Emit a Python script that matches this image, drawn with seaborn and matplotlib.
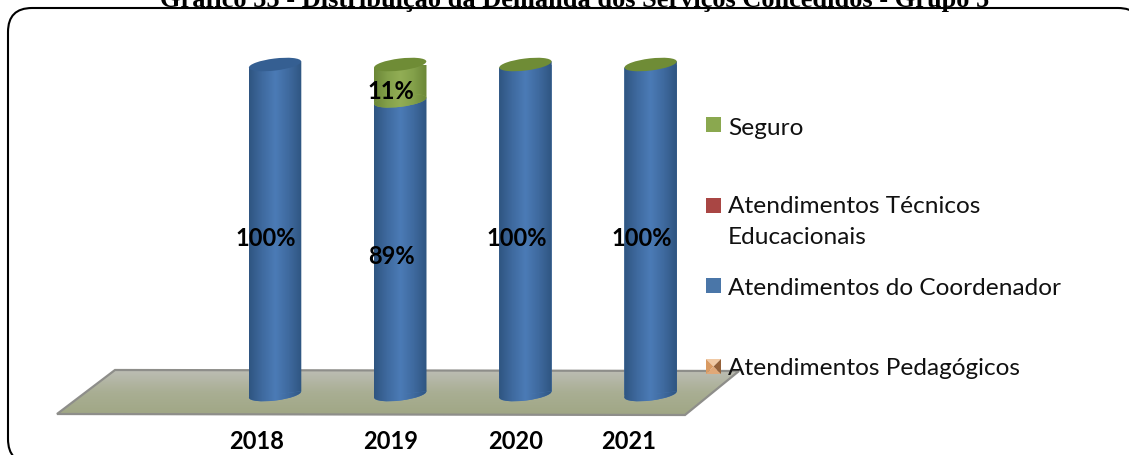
"""
Grafico 55 - stacked cylinder chart, recreated with seaborn
"""
import numpy as np
import pandas as pd
import matplotlib
matplotlib.use('Agg')
import matplotlib.pyplot as plt
import seaborn as sns
from matplotlib.colors import LinearSegmentedColormap
from matplotlib.patches import Ellipse, FancyBboxPatch, Polygon, Rectangle
from matplotlib.transforms import Affine2D, IdentityTransform, ScaledTranslation

TITLE = 'Gráfico 55 - Distribuição da Demanda dos Serviços Concedidos - Grupo 5'
years = ['2018', '2019', '2020', '2021']
coordenador = [100, 89, 100, 100]
seguro = [0, 11, 0, 0]
legend_labels = ['Seguro', 'Atendimentos Técnicos\nEducacionais',
                 'Atendimentos do Coordenador', 'Atendimentos Pedagógicos']

W, H = 1129, 456
TILT = 3.2  # px rise of a rim from its centre to its right end
BLUE = ['#2f5581', '#3f6a9f', '#4b7bb6', '#3f6a9f', '#2f5581']
GREEN = ['#6b8737', '#83a04a', '#92ae55', '#83a04a', '#6b8737']
blue_cmap = LinearSegmentedColormap.from_list('blue', BLUE)
green_cmap = LinearSegmentedColormap.from_list('green', GREEN)
floor_cmap = LinearSegmentedColormap.from_list('floor', ['#bcbdb4', '#a9ae93', '#a0a785'])

sns.set_theme(style='white')
plt.rcParams['font.family'] = ['Lato', 'DejaVu Sans']

fig = plt.figure(figsize=(W / 100, H / 100), dpi=100, facecolor='white')

# background layer in pixel coordinates
bg = fig.add_axes([0, 0, 1, 1], zorder=0)
bg.set_xlim(0, W)
bg.set_ylim(H, 0)
bg.axis('off')

frame = FancyBboxPatch((32, 33), 1086, 407, boxstyle='round,pad=24,rounding_size=24',
                       fc='white', ec='black', lw=1.5, clip_on=False)
bg.add_patch(frame)

bg.text(575, 6.5, TITLE, family='Liberation Serif', weight='bold', fontsize=19,
        ha='center', va='baseline', color='black', clip_on=False)

# floor
floor = Polygon([(115, 371), (57, 415), (685, 416), (739, 372)], closed=True,
                fc='none', ec='#8e8e8a', lw=1.6, zorder=3)
bg.add_patch(floor)
grad = bg.imshow(np.linspace(0, 1, 64)[:, None], extent=(50, 745, 416, 371), aspect='auto',
                 cmap=floor_cmap, zorder=2)
grad.set_clip_path(floor)
bg.set_xlim(0, W)
bg.set_ylim(H, 0)

# legend
square_y = [118, 199, 279]
square_colors = ['#8aa84f', '#a94644', '#4a76a8']
for y, c in zip(square_y, square_colors):
    bg.add_patch(Rectangle((706, y), 15, 15, fc=c, ec='none', zorder=4))
x0, x1, y0, y1, cx, cy = 706, 721, 360, 375, 713.5, 367.5
for pts, c in [([(x0, y0), (x1, y0), (cx, cy)], '#f0c9a4'),
               ([(x0, y1), (x1, y1), (cx, cy)], '#e0a878'),
               ([(x0, y0), (x0, y1), (cx, cy)], '#d99a62'),
               ([(x1, y0), (x1, y1), (cx, cy)], '#95623a')]:
    bg.add_patch(Polygon(pts, closed=True, fc=c, ec='none', zorder=4))
legend_y = [129, 222, 289, 369]
for label, y in zip(legend_labels, legend_y):
    bg.text(728, y, label, fontsize=17.6, color='#111111', ha='left', va='center',
            linespacing=1.6, zorder=5)

# chart layer: x categories 125.2 px apart, y from 395.5 px (0) to 65.5 px (100)
ax = fig.add_axes([212.4 / W, (H - 395.5) / H, 500.8 / W, 330 / H], zorder=1)
ax.patch.set_alpha(0)
df = pd.DataFrame({'ano': years, 'coordenador': coordenador, 'seguro': seguro})
sns.barplot(data=df, x='ano', y='coordenador', color=BLUE[2], width=0.42, saturation=1,
            linewidth=0, ax=ax)
sns.barplot(data=df, x='ano', y='seguro', bottom=df['coordenador'], color=GREEN[2],
            width=0.42, saturation=1, linewidth=0, ax=ax)
ax.set_xlim(-0.5, 3.5)
ax.set_ylim(0, 100)
ax.set_xlabel('')
ax.set_ylabel('')
ax.set_yticks([])
sns.despine(ax=ax, left=True, bottom=True)
ax.tick_params(axis='x', length=0, pad=25)
ax.set_xticks(range(len(years)))
ax.set_xticklabels(years, fontsize=17, fontweight='bold', color='black')

# the year labels sit left of the bars, as in a 3D office chart
label_shift = [-18, -10, -10, -22]
for lab, dx in zip(ax.get_xticklabels(), label_shift):
    lab.set_transform(lab.get_transform() + ScaledTranslation(dx / 100, 0, fig.dpi_scale_trans))


def gradient(clip, cmap, low, high, y_low, y_high, zorder):
    """Horizontal cylinder gradient clipped to a patch"""
    im = ax.imshow(np.linspace(0, 1, 128)[None, :], extent=(low, high, y_low, y_high),
                   aspect='auto', cmap=cmap, zorder=zorder)
    im.set_clip_box(fig.bbox)
    im.set_clip_path(clip)


def body(bar):
    """Outline of a bar in pixels, with top and bottom sloped along the rims"""
    (xa, ya), (xb, yb) = ax.transData.transform(
        [(bar.get_x(), bar.get_y()), (bar.get_x() + bar.get_width(), bar.get_y() + bar.get_height())])
    return Polygon([(xa, ya - TILT), (xb, ya + TILT), (xb, yb + TILT), (xa, yb - TILT)],
                   closed=True, transform=IdentityTransform())


def rim(i, value, **kwargs):
    """Tilted ellipse at the top or bottom of a cylinder"""
    px, py = ax.transData.transform((i, value))
    tr = Affine2D().scale(26.3, 6).rotate_deg(7).translate(px, py)
    e = Ellipse((0, 0), 2, 2, transform=tr, clip_on=False, **kwargs)
    ax.add_patch(e)
    return e


for i, (c, s) in enumerate(zip(coordenador, seguro)):
    low, high = i - 0.21, i + 0.21
    bar = ax.containers[0][i]
    bar.set_zorder(3)
    outline = body(bar)
    bar.set_clip_path(outline)
    gradient(outline, blue_cmap, low, high, -3, c + 3, 3.1)
    base = rim(i, 0, fc=BLUE[2], ec='none', zorder=2.5)
    gradient(base, blue_cmap, low, high, -3, 3, 2.6)
    if s > 0:
        top_bar = ax.containers[1][i]
        top_bar.set_zorder(4)
        outline = body(top_bar)
        top_bar.set_clip_path(outline)
        gradient(outline, green_cmap, low, high, c - 3, c + s + 3, 4.1)
        seam = rim(i, c, fc=GREEN[2], ec='none', zorder=4.2)
        gradient(seam, green_cmap, low, high, c - 3, c + 3, 4.3)
    else:
        ax.containers[1][i].set_visible(False)

# top caps: dark blue on 2018, olive on the others
cap_colors = ['#355f92', '#6f8c36', '#6f8c36', '#6f8c36']
for i, (c, s) in enumerate(zip(coordenador, seguro)):
    rim(i, c + s, fc=cap_colors[i], ec='none', zorder=5)

ax.set_xlim(-0.5, 3.5)
ax.set_ylim(0, 100)

# data labels, offset down and left from the middle of each segment
for i, (c, s) in enumerate(zip(coordenador, seguro)):
    ax.annotate(f'{c}%', (i, c / 2), xytext=(-6.5, -6), textcoords='offset points',
                ha='center', va='center', fontsize=17, fontweight='bold', color='black',
                zorder=8)
    if s > 0:
        ax.annotate(f'{s}%', (i, c + s / 2), xytext=(-6.5, -5.4), textcoords='offset points',
                    ha='center', va='center', fontsize=17, fontweight='bold', color='black',
                    zorder=8)

fig.savefig('out.png', dpi=100)
